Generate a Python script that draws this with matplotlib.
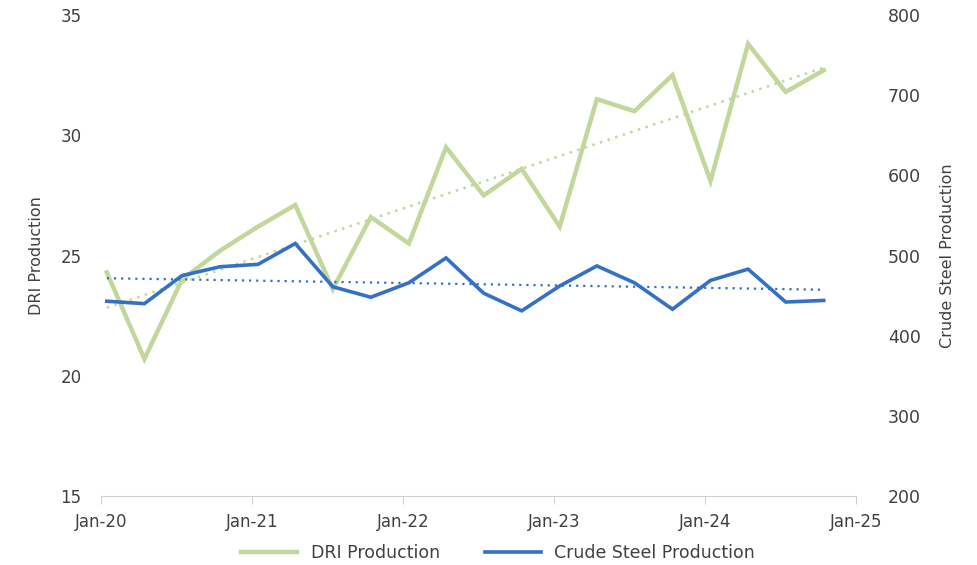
import numpy as np
import pandas as pd
import matplotlib
matplotlib.use("Agg")
import matplotlib.pyplot as plt
import matplotlib.dates as mdates

# quarterly points (mid-month of Jan/Apr/Jul/Oct)
dates = pd.to_datetime([
    "2020-01-15", "2020-04-15", "2020-07-15", "2020-10-15",
    "2021-01-15", "2021-04-15", "2021-07-15", "2021-10-15",
    "2022-01-15", "2022-04-15", "2022-07-15", "2022-10-15",
    "2023-01-15", "2023-04-15", "2023-07-15", "2023-10-15",
    "2024-01-15", "2024-04-15", "2024-07-15", "2024-10-15",
])
dri = [24.3, 20.7, 24.0, 25.2, 26.2, 27.1, 23.6, 26.6, 25.5, 29.5,
       27.5, 28.6, 26.2, 31.5, 31.0, 32.5, 28.1, 33.8, 31.8, 32.7]
steel = [443, 440, 475, 486, 489, 515, 461, 448, 466, 497,
         453, 431, 462, 487, 466, 433, 469, 483, 442, 444]
tick_years = ["2020", "2021", "2022", "2023", "2024", "2025"]

green = "#C3D69B"
blue = "#3470C4"
txt = "#404040"

plt.rcParams['font.family'] = ['DejaVu Sans']
fig = plt.figure(figsize=(9.77, 5.65), dpi=100)
ax = fig.add_axes([0.1034, 0.122, 0.7727, 0.8515])
ax2 = ax.twinx()

x = mdates.date2num(dates)
l1, = ax.plot(dates, dri, color=green, lw=3.2, solid_joinstyle='miter', label="DRI Production", zorder=3)
l2, = ax2.plot(dates, steel, color=blue, lw=2.6, solid_joinstyle='miter', label="Crude Steel Production", zorder=3)

# linear trendlines
p1 = np.polyfit(x, dri, 1)
p2 = np.polyfit(x, steel, 1)
ax.plot(dates, np.polyval(p1, x), color=green, lw=1.8, ls=(0, (1, 2.2)), zorder=2)
ax2.plot(dates, np.polyval(p2, x), color=blue, lw=1.6, ls=(0, (1, 2.2)), zorder=2)

ax.set_ylim(15, 35)
ax.set_yticks([15, 20, 25, 30, 35])
ax2.set_ylim(200, 800)
ax2.set_yticks(range(200, 801, 100))
ticks = pd.to_datetime([y + "-01-01" for y in tick_years])
ax.set_xlim(ticks[0], ticks[-1])
ax.set_xticks(ticks)
ax.xaxis.set_major_formatter(mdates.DateFormatter("%b-%y"))

for a in (ax, ax2):
    for s in ("top", "left", "right", "bottom"):
        a.spines[s].set_visible(False)
ax.spines["bottom"].set_visible(True)
ax.spines["bottom"].set_color("#d0d0d0")
ax.tick_params(axis='x', colors="#d0d0d0", labelcolor=txt, labelsize=12, length=6, pad=6)
ax.tick_params(axis='y', length=0, labelcolor=txt, labelsize=12, pad=14)
ax2.tick_params(axis='y', length=0, labelcolor=txt, labelsize=12.5, pad=23)

ax.set_ylabel("DRI Production", color=txt, fontsize=11.5, labelpad=12)
ax2.set_ylabel("Crude Steel Production", color=txt, fontsize=11.5, labelpad=14)

fig.legend([l1, l2], ["DRI Production", "Crude Steel Production"],
           loc="lower center", bbox_to_anchor=(0.51, -0.022), ncol=2, frameon=False,
           fontsize=12.5, labelcolor=txt, handlelength=3.2, columnspacing=2.6)

fig.savefig("out.png", dpi=100)
